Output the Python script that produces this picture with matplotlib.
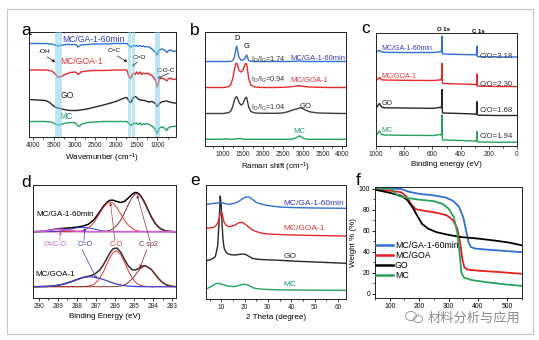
import matplotlib
matplotlib.use("Agg")
import matplotlib.pyplot as plt
from matplotlib.patches import Rectangle, Ellipse
from matplotlib.ticker import MultipleLocator

plt.rcParams["font.family"] = ["Liberation Sans", "DejaVu Sans"]
plt.rcParams["mathtext.fontset"] = "custom"
plt.rcParams["mathtext.rm"] = "Liberation Sans"
plt.rcParams["mathtext.it"] = "Liberation Sans:italic"
plt.rcParams["mathtext.bf"] = "Liberation Sans:bold"

W, H = 539, 340

# ---------------- (a) FTIR, offset transmittance (a.u.)
FTIR_WN = [4100, 3900, 3700, 3600, 3550, 3500, 3450, 3400, 3350, 3300, 3200, 3100, 3000,
           2950, 2920, 2880, 2850, 2700, 2500, 2300, 2000, 1800, 1750, 1720, 1700, 1660,
           1630, 1600, 1560, 1530, 1500, 1460, 1420, 1380, 1340, 1300, 1250, 1200, 1130,
           1080, 1040, 1005, 980, 950, 900, 850, 800, 770, 740, 700, 650, 600, 550]
ftir_ga60 = [93.5, 93.5, 93.5, 93, 93, 92.5, 91.5, 91, 91.5, 92, 92.5, 92.5, 92.5, 92, 90, 91,
             92, 92.5, 93, 93, 93.5, 93.5, 93.5, 93, 92, 90.5, 90, 91, 91.5, 91, 91.5, 90.5,
             91.5, 90.5, 91, 90, 90.5, 90, 88, 86, 84.5, 82, 85, 87, 88, 87.5, 86, 84.5, 86,
             87, 86.5, 85.5, 86]
ftir_goa = [67, 67, 67, 66.5, 66, 64.5, 62, 60, 60, 61, 63, 64.5, 65, 64.5, 62.5, 63.5, 65, 66,
            66.5, 66.5, 67, 67, 67, 65.5, 62, 58.5, 60, 63, 64, 62.5, 65, 63, 65, 62.5, 64, 63,
            64, 63, 61.5, 59, 56, 50, 53, 58, 59, 58.5, 57, 56, 58, 59, 58, 57.5, 58]
ftir_go = [37.5, 37, 36.5, 34.5, 32.5, 31, 29.5, 29, 28.5, 28, 27, 26.5, 26.5, 26.5, 26.5, 27,
           27, 28, 30, 32, 35.5, 39, 39.5, 38.5, 37, 34.5, 35, 38, 40, 40.5, 39.5, 38, 37, 37,
           36.5, 36.5, 35.5, 35, 35.5, 34.5, 33, 30.5, 31.5, 33.5, 35, 35.5, 36, 36, 35.5, 35,
           34.5, 34, 34]
ftir_mc = [15.5, 15.5, 15.5, 15, 15, 14, 12.5, 12, 12.5, 13, 14, 14.5, 14.5, 13, 11, 10.5, 12.5,
           14.5, 15, 15.5, 15.5, 15.5, 15.5, 15, 14, 12, 11.5, 13.5, 14, 13, 14, 12.5, 14, 12,
           13.5, 12.5, 13.5, 12.5, 11, 9, 7, 3.5, 6, 9, 10, 9.5, 8, 6.5, 9, 10, 10.5, 10.5, 11]
FTIR_BANDS = [(3300, 3480), (1630, 1705), (1545, 1610), (940, 1050)]

# ---------------- (b) Raman
RAMAN_SHIFT = [550, 800, 1000, 1100, 1150, 1200, 1250, 1290, 1320, 1345, 1370, 1400, 1450,
               1500, 1540, 1570, 1595, 1620, 1650, 1700, 1800, 2000, 2300, 2500, 2650, 2750,
               2850, 2920, 2960, 3000, 3100, 3200, 3400, 3700, 4090]
raman_ga60 = [84.5, 84.5, 84.5, 84.5, 84.5, 84.7, 85.5, 89, 96, 100, 95, 89, 86, 86, 87, 89, 91,
              88, 85.5, 84.7, 84.5, 84.5, 84.5, 84.5, 84.5, 84.6, 84.8, 85, 84.9, 84.7, 84.5,
              84.5, 84.5, 84.5, 84.5]
raman_goa = [58.5, 58.5, 58.5, 59, 59.5, 61.5, 68, 77, 82, 83, 80.5, 76, 74, 75.5, 80, 82.5, 82,
             75, 67, 61, 59, 58.5, 58.5, 58.7, 59, 59.5, 60, 60.2, 60, 59.7, 59.2, 59, 58.7,
             58.5, 58.5]
raman_go = [32.5, 32.5, 32.5, 33, 33.5, 35, 40, 46, 48.5, 49.3, 47.5, 44, 41, 42, 46, 48.5, 48.5,
            44, 38.5, 34.5, 33, 32.7, 32.7, 33, 34.5, 36, 37, 38, 38, 37.5, 35.5, 34, 33, 32.7,
            32.5]
raman_mc = [6.7, 6.7, 6.8, 7.2, 6.8, 6.7, 6.7, 6.8, 7, 7.2, 7.4, 7.2, 7.5, 6.8, 6.7, 6.7, 6.7,
            6.7, 6.7, 6.7, 6.7, 6.7, 6.7, 6.7, 6.7, 7, 8.5, 10, 9.5, 8, 6.8, 6.7, 6.7, 6.7, 6.7]
RAMAN_RATIO = ["1.74", "0.94", "1.04"]

# ---------------- (c) XPS survey
XPS_BE = [1000, 990, 980, 975, 970, 960, 940, 800, 600, 570, 550, 540, 535, 532, 529, 525, 515,
          400, 300, 292, 287, 285, 283, 280, 270, 150, 0]
xps_ga60 = [94, 94.5, 95.5, 95.7, 95, 94, 93.7, 93.5, 93.5, 93.7, 94.2, 94, 96, 110, 92.5, 92, 92,
            91.5, 91.2, 91, 92, 100, 90, 89.5, 89.3, 89, 89]
xps_goa = [66, 66.5, 68, 68.5, 67.5, 66.2, 66, 65.7, 65.5, 65.7, 66.2, 66, 68, 82.5, 63, 62.5,
           62.5, 62, 61.5, 61.2, 62, 72, 60.5, 60, 59.8, 59.5, 59.5]
xps_go = [38, 39.5, 42, 42.5, 41, 39, 38.2, 38, 37.7, 38, 38.7, 38.2, 40, 56.5, 33.5, 33, 33,
          32.5, 32, 31.7, 33, 44.3, 31.5, 31, 30.8, 30.5, 30.5]
xps_mc = [11, 12, 14.5, 15, 13.5, 11.5, 11, 10.7, 10.5, 10.8, 11.5, 11, 13, 31, 6.5, 6, 6, 5.5, 5,
          4.8, 6, 14.5, 4.5, 4.2, 4, 3.8, 3.8]
CO_RATIO = ["3.18", "2.30", "1.68", "1.94"]

# ---------------- (d) C 1s high resolution (intensity above each baseline)
C1S_BE = [290.3, 290.0, 289.6, 289.2, 288.9, 288.6, 288.3, 288.0, 287.7, 287.4, 287.1, 286.8,
          286.6, 286.4, 286.26, 286.1, 285.9, 285.7, 285.5, 285.3, 285.1, 284.95, 284.85, 284.7,
          284.5, 284.4, 284.1, 283.9, 283.7, 283.5, 283.3, 283.0, 282.8]
ga60_env = [0.05, 0.2, 0.9, 2.3, 3.1, 3.5, 3.9, 4.6, 5.5, 7.4, 12.0, 19.8, 25.5, 29.8, 31.4, 31.5,
            30.2, 29.2, 30.3, 33.7, 37.5, 39.2, 39.1, 37.1, 31.2, 27.2, 15.0, 8.6, 4.3, 1.9, 0.7,
            0.1, 0]
ga60_sp2 = [0, 0, 0, 0, 0, 0, 0, 0, 0, 0, 0, 0, 0.2, 0.7, 1.4, 2.9, 6.2, 11.5, 18.9, 27.2, 34.3,
            37.4, 38, 36.6, 31.0, 27.2, 15.0, 8.6, 4.3, 1.9, 0.7, 0.1, 0]
ga60_co = [0, 0, 0, 0, 0, 0, 0, 0.2, 0.95, 3.5, 9.3, 18.4, 24.5, 28.7, 29.7, 28.5, 24.0, 17.7,
           11.4, 6.5, 3.2, 1.75, 1.1, 0.5, 0.2, 0.1, 0, 0, 0, 0, 0, 0, 0]
ga60_cdo = [0, 0, 0.03, 0.2, 0.6, 1.4, 2.7, 3.9, 4.4, 3.9, 2.7, 1.4, 0.8, 0.4, 0.25, 0.1, 0, 0, 0,
            0, 0, 0, 0, 0, 0, 0, 0, 0, 0, 0, 0, 0, 0]
ga60_oco = [0.05, 0.2, 0.9, 2.1, 2.5, 2.1, 1.2, 0.5, 0.15, 0, 0, 0, 0, 0, 0, 0, 0, 0, 0, 0, 0, 0,
            0, 0, 0, 0, 0, 0, 0, 0, 0, 0, 0]
goa_env = [0.02, 0.07, 0.26, 0.8, 1.7, 3.1, 5.0, 7.1, 9.1, 10.4, 12.1, 16.6, 22.2, 29.3, 34.0,
           38.0, 38.7, 34.5, 27.3, 20.6, 17.0, 16.6, 17.3, 19.1, 20.9, 21.0, 17.3, 12.6, 7.8, 4.1,
           1.8, 0.4, 0.1]
goa_co = [0, 0, 0, 0, 0, 0, 0, 0, 0.07, 0.5, 2.4, 8.2, 15.1, 23.6, 29.3, 34.2, 35.9, 32.1, 24.4,
          15.9, 8.8, 5.1, 3.3, 1.7, 0.6, 0.3, 0, 0, 0, 0, 0, 0, 0]
goa_sp2 = [0, 0, 0, 0, 0, 0, 0, 0, 0, 0, 0, 0, 0, 0, 0, 0.06, 0.2, 0.7, 1.8, 4.1, 7.8, 11.3, 13.8,
           17.3, 20.3, 20.7, 17.3, 12.6, 7.8, 4.1, 1.8, 0.4, 0.1]
goa_cdo = [0.02, 0.07, 0.26, 0.8, 1.7, 3.1, 5.0, 7.1, 9.0, 9.9, 9.7, 8.4, 7.1, 5.7, 4.7, 3.7, 2.6,
           1.7, 1.1, 0.6, 0.35, 0.2, 0.16, 0.09, 0.04, 0.02, 0, 0, 0, 0, 0, 0, 0]
C1S_OFFSET = {"ga60": 66.3, "goa": 11.3}

# ---------------- (e) XRD
TWO_THETA = [3.5, 5, 6.5, 7.5, 8.5, 9.2, 9.6, 10.0, 10.4, 10.8, 11.3, 12, 13, 14.5, 16, 17.5, 19,
             20.5, 22, 23.5, 25, 27, 30, 35, 40, 50, 63.5]
xrd_ga60 = [94.5, 95, 95.5, 95.7, 96, 96.2, 96.3, 96.4, 96.3, 96, 95.7, 95.2, 94.8, 95, 96, 97.5,
            100, 102, 102, 99.5, 96.7, 95, 93.5, 92, 91.5, 91, 90.7]
xrd_goa = [70.7, 71, 71.5, 72.5, 76, 81, 85.5, 87.3, 85.5, 81, 76.5, 74, 72.5, 72.7, 74, 76.2,
           76.7, 74.5, 71.5, 69, 67.5, 66, 65, 64.5, 64, 63.5, 63]
xrd_go = [38.3, 39, 40.5, 42.5, 53, 81, 103, 94, 74, 59, 50.7, 47, 45, 44.2, 44, 44.5, 45, 44.5,
          42.5, 40.5, 40, 39.5, 39.2, 38.7, 38, 37, 35.7]
xrd_mc = [10, 11.5, 13.5, 15, 15.7, 15.5, 15.2, 15, 14.7, 14.3, 14, 13.5, 13, 12.5, 12.5, 13.5,
          14.5, 14.7, 13.5, 11.3, 10.5, 10, 9.5, 9.2, 9, 8.8, 8.7]

# ---------------- (f) TGA
tga_t_ga60 = [50, 110, 140, 165, 200, 250, 290, 315, 335, 350, 360, 368, 376, 390, 420, 480, 550]
tga_w_ga60 = [100, 100, 99.5, 97, 95, 93.5, 91.5, 88.5, 83, 73, 60, 49, 44.5, 43, 42.2, 41, 39.5]
tga_t_goa = [50, 100, 140, 158, 172, 188, 215, 260, 295, 315, 330, 340, 347, 354, 365, 400, 480,
             550]
tga_w_goa = [99, 98, 96.5, 92, 85.5, 80.5, 79, 77, 74.5, 70, 62, 48, 33, 25, 23, 22, 20.5, 19]
tga_t_go = [50, 100, 140, 160, 178, 195, 210, 230, 260, 300, 340, 400, 460, 510, 550]
tga_w_go = [99, 96, 93, 89, 82, 73.5, 66.5, 62, 58.5, 56, 54, 52.5, 50.5, 48.5, 46]
tga_t_mc = [50, 108, 117, 130, 160, 200, 250, 280, 300, 318, 330, 338, 344, 352, 380, 430, 490,
            550]
tga_w_mc = [100, 100, 96, 93, 91, 89.5, 88, 85.5, 81, 73, 58, 38, 20, 15.5, 13, 11, 9, 7.5]

SAMPLES = ["MC/GA-1-60min", "MC/GOA-1", "GO", "MC"]

BLUE, RED, BLACK, GREEN = "#2e6fd4", "#e62a2a", "#262626", "#25a25c"
T_BLUE, T_RED, T_GREEN = "#3838b4", "#e23030", "#1f9e66"
BAND = "#86d3e8"


def px_axes(fig, l, t, r, b):
    return fig.add_axes([l / W, 1 - b / H, (r - l) / W, (b - t) / H])


def finish(ax, major, minor, label):
    for s in ax.spines.values():
        s.set_linewidth(0.7)
        s.set_color("#222222")
    ax.xaxis.set_major_locator(MultipleLocator(major))
    ax.xaxis.set_minor_locator(MultipleLocator(minor))
    ax.tick_params(axis="x", which="major", direction="out", length=2, width=0.6, pad=1.5,
                   labelsize=4.7, colors="#222222")
    ax.tick_params(axis="x", which="minor", direction="out", length=1.2, width=0.5)
    ax.set_yticks([])
    ax.set_xlabel(label, fontsize=5.8, labelpad=2)


def arrow(ax, tail, tip, color="#222222"):
    ax.annotate("", xy=tip, xytext=tail,
                arrowprops=dict(arrowstyle="-|>", lw=0.5, color=color, mutation_scale=4,
                                shrinkA=0, shrinkB=0))


fig = plt.figure(figsize=(W / 100, H / 100), dpi=100)

# ---- a
ax = px_axes(fig, 29, 32, 176, 137)
for vals, c in ((ftir_mc, GREEN), (ftir_go, BLACK), (ftir_goa, RED), (ftir_ga60, BLUE)):
    ax.plot(FTIR_WN, vals, color=c, lw=1.0)
for lo, hi in FTIR_BANDS:
    ax.axvspan(lo, hi, color=BAND, alpha=0.55, lw=0, zorder=3.5)
ax.set_xlim(4100, 550)
ax.set_ylim(0, 105)
finish(ax, 500, 250, "Wavemunber (cm$^{-1}$)")
ax.text(2547, 97, SAMPLES[0], color=T_BLUE, fontsize=6.2, ha="center", va="center")
ax.text(2821, 75.3, SAMPLES[1], color=T_RED, fontsize=6.2, ha="center", va="center")
ax.text(3165, 41, SAMPLES[2], color=BLACK, fontsize=6.2, ha="center", va="center")
ax.text(3218, 20.3, SAMPLES[3], color=T_GREEN, fontsize=6.2, ha="center", va="center")
ax.text(3717, 85.3, "-OH", fontsize=4.6, ha="center", va="center")
ax.text(2056, 87, "C=C", fontsize=4.6, ha="center", va="center")
ax.text(1438, 79.7, "C=O", fontsize=4.6, ha="center", va="center")
ax.text(804, 66.3, "C-O-C", fontsize=4.6, ha="center", va="center")
arrow(ax, (3661, 80), (3467, 75))
arrow(ax, (1966, 81), (1724, 75))
arrow(ax, (1482, 75), (1615, 70.5))
arrow(ax, (724, 63.7), (1005, 58.7))

# ---- b
ax = px_axes(fig, 205, 32, 346, 146)
for vals, c in ((raman_mc, GREEN), (raman_go, "#3c3c3c"), (raman_goa, RED), (raman_ga60, BLUE)):
    ax.plot(RAMAN_SHIFT, vals, color=c, lw=1.0)
ax.set_xlim(550, 4090)
ax.set_ylim(0, 114)
finish(ax, 500, 250, "Raman shift (cm$^{-1}$)")
ax.text(1346, 107.7, "D", fontsize=5.5, ha="center", va="center")
ax.text(1597, 99.3, "G", fontsize=5.5, ha="center", va="center")
for r, y in zip(RAMAN_RATIO, (86.5, 66, 38)):
    ax.text(1700, y, r"I$_\mathrm{D}$/I$_\mathrm{G}$=" + r, fontsize=5.3, color="#333333",
            ha="left", va="center")
ax.text(2683, 87.7, SAMPLES[0], color=T_BLUE, fontsize=5.5, ha="left", va="center")
ax.text(2683, 66, SAMPLES[1], color=T_RED, fontsize=5.5, ha="left", va="center")
ax.text(2935, 40, SAMPLES[2], color=BLACK, fontsize=5.5, ha="left", va="center")
ax.text(2910, 14.3, SAMPLES[3], color=T_GREEN, fontsize=5.5, ha="center", va="center")

# ---- c
ax = px_axes(fig, 376, 33, 517, 146)
for vals, c in ((xps_mc, GREEN), (xps_go, BLACK), (xps_goa, RED), (xps_ga60, BLUE)):
    ax.plot(XPS_BE, vals, color=c, lw=1.0)
ax.set_xlim(1000, 0)
ax.set_ylim(0, 113)
finish(ax, 200, 100, "Binding energy (eV)")
ax.text(521, 116.5, "O 1s", fontsize=4.3, weight="bold", ha="center", va="center")
ax.text(273, 115, "C 1s", fontsize=4.3, weight="bold", ha="center", va="center")
for name, c, y in zip(SAMPLES, (T_BLUE, T_RED, BLACK, T_GREEN), (97.3, 70, 43, 15)):
    ax.text(962, y, name, color=c, fontsize=5.0, ha="left", va="center")
for r, y in zip(CO_RATIO, (90, 62, 36, 9.3)):
    ax.text(268, y, "C/O=" + r, color="#333333", fontsize=5.6, ha="left", va="center")

# ---- d
ax = px_axes(fig, 33, 185, 176, 298)
C_SP2, C_CO, C_CDO, C_OCO = "#8c2b2b", "#e8342f", "#3f3fcf", "#d060d0"
b0 = C1S_OFFSET["ga60"]
ax.plot(C1S_BE, [b0 + v for v in ga60_env], color="black", lw=1.1)
ax.plot(C1S_BE, [b0 + v for v in ga60_sp2], color=C_SP2, lw=0.7)
ax.plot(C1S_BE, [b0 + v for v in ga60_co], color=C_CO, lw=0.7)
ax.plot(C1S_BE, [b0 + v for v in ga60_cdo], color=C_CDO, lw=0.7)
ax.plot(C1S_BE, [b0 + v for v in ga60_oco], color=C_OCO, lw=1.2)
b1 = C1S_OFFSET["goa"]
ax.plot(C1S_BE, [b1 + v for v in goa_env], color="#303030", lw=1.1)
ax.plot(C1S_BE, [b1 + v for v in goa_co], color=C_CO, lw=0.7)
ax.plot(C1S_BE, [b1 + v for v in goa_sp2], color=C_SP2, lw=0.7)
ax.plot(C1S_BE, [b1 + v for v in goa_cdo], color=C_CDO, lw=0.9)
ax.set_xlim(290.3, 282.8)
ax.set_ylim(0, 113)
finish(ax, 1, 0.5, "Binding Energy (eV)")
ax.text(290.14, 83, SAMPLES[0], fontsize=5.8, ha="left", va="center")
ax.text(290.2, 23.7, SAMPLES[1], fontsize=5.8, ha="left", va="center")
ax.text(289.15, 53, "O=C-O", color=C_OCO, fontsize=5.2, ha="center", va="center")
ax.text(287.55, 53, "C=O", color=C_CDO, fontsize=5.2, ha="center", va="center")
ax.text(285.92, 53, "C-O", color=C_CO, fontsize=5.2, ha="center", va="center")
ax.text(284.24, 53, "C sp2", color=C_SP2, fontsize=5.2, ha="center", va="center")
arrow(ax, (288.9, 57.5), (288.85, 66.5), C_OCO)
arrow(ax, (287.63, 57), (287.58, 70), C_CDO)
arrow(ax, (287.73, 48.5), (286.96, 19), C_CDO)
arrow(ax, (286.0, 57), (286.24, 95.5), "#b04040")
arrow(ax, (284.16, 57), (284.84, 103), C_SP2)
arrow(ax, (284.34, 48), (284.7, 30), C_SP2)

# ---- e
ax = px_axes(fig, 206, 185, 346, 299)
for vals, c in ((xrd_mc, GREEN), (xrd_go, BLACK), (xrd_goa, RED), (xrd_ga60, BLUE)):
    ax.plot(TWO_THETA, vals, color=c, lw=1.0)
ax.set_xlim(3.5, 63.5)
ax.set_ylim(0, 114)
finish(ax, 10, 5, "2 Theta (degree)")
for name, c, y in zip(SAMPLES, (T_BLUE, T_RED, BLACK, T_GREEN), (95.7, 70.7, 42.3, 14.7)):
    ax.text(36.6, y, name, color=c, fontsize=6.0, ha="left", va="center")

# ---- f
ax = px_axes(fig, 375, 187, 522, 298)
for t, w, c, name in ((tga_t_ga60, tga_w_ga60, BLUE, SAMPLES[0]),
                      (tga_t_goa, tga_w_goa, "#e81e1e", "MC/GOA"),
                      (tga_t_go, tga_w_go, "black", SAMPLES[2]),
                      (tga_t_mc, tga_w_mc, GREEN, SAMPLES[3])):
    ax.plot(t, w, color=c, lw=1.3, label=name)
ax.set_xlim(50, 550)
ax.set_ylim(-4, 101.5)
for s in ax.spines.values():
    s.set_linewidth(0.7)
    s.set_color("#222222")
ax.xaxis.set_major_locator(MultipleLocator(100))
ax.xaxis.set_minor_locator(MultipleLocator(50))
ax.yaxis.set_major_locator(MultipleLocator(20))
ax.yaxis.set_minor_locator(MultipleLocator(10))
ax.tick_params(which="major", direction="out", length=2, width=0.6, pad=1.5, labelsize=4.9)
ax.tick_params(which="minor", direction="out", length=1.2, width=0.5)
ax.set_ylabel("Weight % (%)", fontsize=5.8, labelpad=1.5)
leg = ax.legend(loc="upper left", bbox_to_anchor=(0.005, 0.515), frameon=False, fontsize=6.3,
                handlelength=2.0, handletextpad=0.2, labelspacing=0.12, borderaxespad=0,
                borderpad=0)
for line in leg.get_lines():
    line.set_linewidth(1.8)

# ---- panel letters
for ch, x, y in (("a", 26.5, 35), ("b", 195, 35), ("c", 366, 33),
                 ("d", 26, 187), ("e", 195, 185), ("f", 358.5, 185)):
    fig.text(x / W, 1 - y / H, ch, fontsize=12.5, ha="center", va="baseline")

# ---- outer frame and watermark
fig.patches.append(Rectangle((7 / W, 1 - 334 / H), 526 / W, 325 / H, transform=fig.transFigure,
                             fill=False, ec="#c4c4c4", lw=0.8))
fig.patches.append(Ellipse((411 / W, 1 - 316 / H), 11 / W, 9 / H, transform=fig.transFigure,
                           fill=False, ec="#9a9a9a", lw=0.7))
fig.patches.append(Ellipse((418 / W, 1 - 319 / H), 9 / W, 7 / H, transform=fig.transFigure,
                           fill=False, ec="#9a9a9a", lw=0.7))
fig.text(474 / W, 1 - 318 / H, "材料分析与应用", fontsize=9.5, color="#8c8c8c",
         family=["Noto Sans CJK SC", "DejaVu Sans"], ha="center", va="center")

fig.savefig("out.png", dpi=100)
